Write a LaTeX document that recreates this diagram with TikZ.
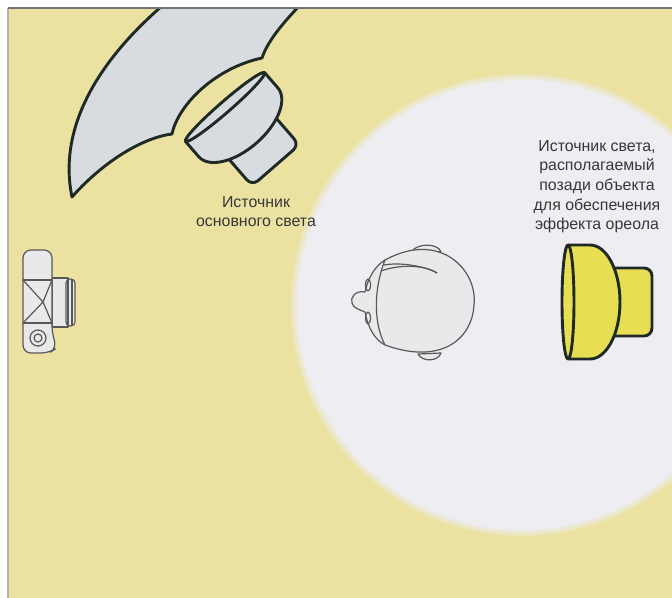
\documentclass[tikz,border=0pt]{standalone}
\usepackage{fontspec}
\setmainfont{Liberation Sans}

\definecolor{paper}{RGB}{235,226,162}
\definecolor{halo}{RGB}{238,238,242}
\definecolor{softgray}{RGB}{216,220,224}
\definecolor{flashyellow}{RGB}{232,222,84}
\definecolor{inkline}{RGB}{32,42,36}
\definecolor{pencil}{RGB}{88,88,88}
\definecolor{headfill}{RGB}{232,233,235}
\definecolor{textgray}{RGB}{55,55,55}

\tikzset{
  flashline/.style={draw=inkline, line width=2.2pt, line join=round},
  thinline/.style={draw=pencil, line width=0.9pt, line join=round},
  lighttext/.style={text=textgray, align=center, inner sep=0pt,
    font=\fontsize{12}{14.8}\selectfont},
  % flash head drawn with its lens at the origin, body towards +x
  flashhead/.pic={
    \draw[flashline, fill=#1, rounded corners=6] (38,-34) -- (84,-34) -- (84,34) -- (38,34) -- cycle;
    \draw[flashline, fill=#1] (0,-57) -- (22,-57) .. controls (38.6,-57) and (52,-31.5) .. (52,0)
      .. controls (52,31.5) and (38.6,57) .. (22,57) -- (0,57) -- cycle;
    \draw[flashline, fill=#1] (0,0) ellipse [x radius=6, y radius=57];
  }
}

\begin{document}
\begin{tikzpicture}[x=0.0265cm, y=-0.0265cm]
\useasboundingbox (0,0) rectangle (672,598);

% Draw the page and the backdrop
\fill[white] (0,0) rectangle (672,598);
\fill[paper] (8,8) rectangle (672,598);

\begin{scope}
  \clip (8,8) rectangle (672,598);

  % Draw the halo behind the subject
  \foreach \r in {231,229,227}
    \fill[halo, opacity=0.35] (522,305) circle (\r);
  \fill[halo] (522,305) circle (225);

  % Draw the umbrella
  \draw[flashline, fill=softgray] (72,197) .. controls (58,130) and (95,60) .. (175,-5)
    -- (310,-5) .. controls (285,20) and (268,40) .. (262,58)
    .. controls (215,68) and (178,105) .. (172,134)
    .. controls (140,138) and (100,165) .. (72,197) -- cycle;

  % Draw the key light and the back light
  \pic (keylight) [scale=0.92, rotate=-49] at (225,107) {flashhead=softgray};
  \pic (backlight) at (568,302) {flashhead=flashyellow};

  % Draw the camera
  \draw[thinline, fill=headfill] (52,278) rectangle (68,327);
  \draw[thinline, fill=headfill, rounded corners=3] (66,279) -- (75,279) -- (75,326) -- (66,326) -- cycle;
  \draw[thinline] (68,279) -- (68,326);
  \draw[thinline] (72,279) -- (72,326);
  \draw[thinline, fill=headfill, rounded corners=6] (23,300) -- (23,250) -- (52,250) -- (52,334)
    -- (57,348) -- (49,353) -- (23,353) -- cycle;
  \draw[thinline] (23,280) -- (52,280) (23,323) -- (52,323);
  \draw[thinline] (23,280) -- (43,302) -- (23,323) (52,280) -- (43,302) -- (52,323);
  \draw[thinline] (38,338) circle (8);
  \draw[thinline] (38,338) circle (4);

  % Draw the subject's head seen from above
  \draw[thinline, fill=headfill] (412,251) .. controls (418,243) and (438,243) .. (441,252) -- cycle;
  \draw[thinline, fill=headfill] (418,354) .. controls (422,362) and (438,362) .. (441,353) -- cycle;
  \draw[thinline, fill=headfill] (385,260) .. controls (440,230) and (478,270) .. (474,305)
    .. controls (472,340) and (440,365) .. (385,345)
    .. controls (375,340) and (368,328) .. (365,312)
    .. controls (360,310) and (353,308) .. (352,303)
    .. controls (350,298) and (355,290) .. (365,292)
    .. controls (368,278) and (375,266) .. (385,260) -- cycle;
  \draw[thinline] (385,260) .. controls (375,285) and (372,320) .. (385,345);
  \draw[thinline] (381,271) .. controls (400,264) and (425,265) .. (437,273);
  \draw[thinline] (384,265) .. controls (400,262) and (425,266) .. (437,273);
  \draw[thinline] (368,285) ellipse [x radius=2.5, y radius=6];
  \draw[thinline] (368,318) ellipse [x radius=2.5, y radius=6];
\end{scope}

% Draw the frame edges
\draw[gray!60, line width=0.8pt] (8,598) -- (8,8);
\draw[gray!90!black, line width=1pt] (8,8) -- (672,8);

% Add labels
\node[lighttext, anchor=north] (keytext) at (256,196) {Источник\\основного света};
\node[lighttext, anchor=north] (backtext) at (597,140) {Источник света,\\располагаемый\\позади объекта\\для обеспечения\\эффекта ореола};

\end{tikzpicture}
\end{document}
